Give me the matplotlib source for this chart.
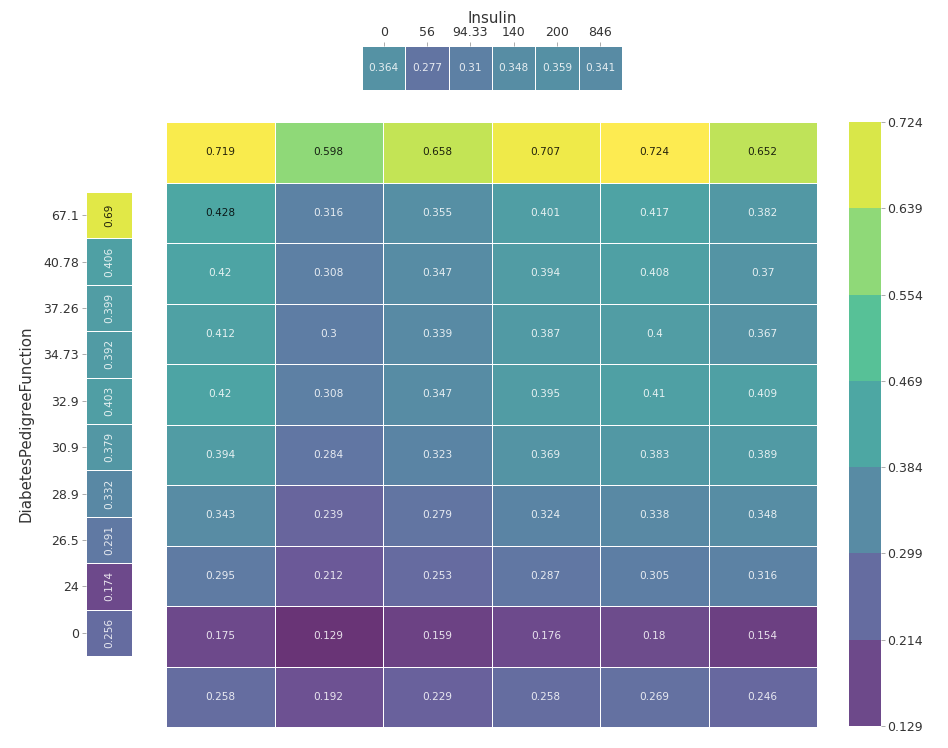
import numpy as np
import matplotlib
matplotlib.use("Agg")
import matplotlib.pyplot as plt
from matplotlib.colors import Normalize, ListedColormap, BoundaryNorm
import matplotlib.colorbar as mcolorbar

# ---- data ----
insulin_labels = ["0", "56", "94.33", "140", "200", "846"]
insulin_values = [0.364, 0.277, 0.31, 0.348, 0.359, 0.341]

dpf_labels = ["67.1", "40.78", "37.26", "34.73", "32.9", "30.9", "28.9", "26.5", "24", "0"]
dpf_values = [0.69, 0.406, 0.399, 0.392, 0.403, 0.379, 0.332, 0.291, 0.174, 0.256]

main_values = [
    [0.719, 0.598, 0.658, 0.707, 0.724, 0.652],
    [0.428, 0.316, 0.355, 0.401, 0.417, 0.382],
    [0.42, 0.308, 0.347, 0.394, 0.408, 0.37],
    [0.412, 0.3, 0.339, 0.387, 0.4, 0.367],
    [0.42, 0.308, 0.347, 0.395, 0.41, 0.409],
    [0.394, 0.284, 0.323, 0.369, 0.383, 0.389],
    [0.343, 0.239, 0.279, 0.324, 0.338, 0.348],
    [0.295, 0.212, 0.253, 0.287, 0.305, 0.316],
    [0.175, 0.129, 0.159, 0.176, 0.18, 0.154],
    [0.258, 0.192, 0.229, 0.258, 0.269, 0.246],
]

ALPHA = 0.8
TXT = "#333333"
base = plt.get_cmap("viridis")
# viridis with alpha baked in so that cell borders stay pure white
cmap = ListedColormap([(*base(i)[:3], ALPHA) for i in range(256)])
M = np.array(main_values)
vmin, vmax = M.min(), M.max()
norm = Normalize(vmin=vmin, vmax=vmax)

plt.rcParams["font.family"] = ["DejaVu Sans"]
fig = plt.figure(figsize=(948 / 72, 748 / 72), dpi=72)

def fmt(v):
    return f"{v:.3f}".rstrip("0").rstrip(".")

def draw(ax, data, rot=0, fs=10.5):
    data = np.asarray(data)
    ax.pcolormesh(data, cmap=cmap, norm=norm, edgecolors="white", linewidth=1.0)
    nr, nc = data.shape
    for i in range(nr):
        for j in range(nc):
            v = data[i, j]
            col = "black" if norm(v) > 0.5 else "white"
            ax.text(j + 0.5, i + 0.5, fmt(v), ha="center", va="center",
                    color=col, fontsize=fs, rotation=rot, alpha=0.85)
    ax.set_xlim(0, nc)
    ax.set_ylim(nr, 0)
    for s in ax.spines.values():
        s.set_visible(False)

# main heatmap
ax = fig.add_axes([166 / 948, 1 - 727 / 748, (817 - 166) / 948, (727 - 122) / 748])
draw(ax, M)
ax.set_xticks([])
ax.set_yticks([])

# top marginal
axt = fig.add_axes([362 / 948, 1 - 90 / 748, (622 - 362) / 948, (90 - 46) / 748])
draw(axt, np.array([insulin_values]))
axt.xaxis.tick_top()
axt.xaxis.set_label_position("top")
axt.set_xticks(np.arange(len(insulin_labels)) + 0.5)
axt.set_xticklabels(insulin_labels, fontsize=12.5, color=TXT)
axt.tick_params(axis="x", length=4, color="#999999", pad=3)
axt.set_yticks([])
axt.set_xlabel("Insulin", fontsize=15, color=TXT, labelpad=3)

# left marginal
axl = fig.add_axes([86 / 948, 1 - 656 / 748, (132 - 86) / 948, (656 - 192) / 748])
draw(axl, np.array(dpf_values)[:, None], rot=90)
axl.set_yticks(np.arange(len(dpf_labels)) + 0.5)
axl.set_yticklabels(dpf_labels, fontsize=12.5, color=TXT)
axl.tick_params(axis="y", length=4, color="#999999", pad=3)
axl.set_xticks([])
axl.set_ylabel("DiabetesPedigreeFunction", fontsize=15, color=TXT, labelpad=10)

# colorbar (7 discrete bands)
bounds = np.linspace(vmin, vmax, 8)
centers = (bounds[:-1] + bounds[1:]) / 2
band_cmap = ListedColormap([cmap(norm(c)) for c in centers])
bnorm = BoundaryNorm(bounds, band_cmap.N)
axc = fig.add_axes([849 / 948, 1 - 726 / 748, (881 - 849) / 948, (726 - 122) / 748])
cb = mcolorbar.ColorbarBase(axc, cmap=band_cmap, norm=bnorm, boundaries=bounds,
                            ticks=bounds)
cb.ax.set_yticklabels([f"{b:.3f}" for b in bounds], fontsize=12.5, color=TXT)
cb.outline.set_visible(False)
cb.ax.tick_params(length=4, color="#999999", pad=2)

fig.savefig("out.png", dpi=72)
